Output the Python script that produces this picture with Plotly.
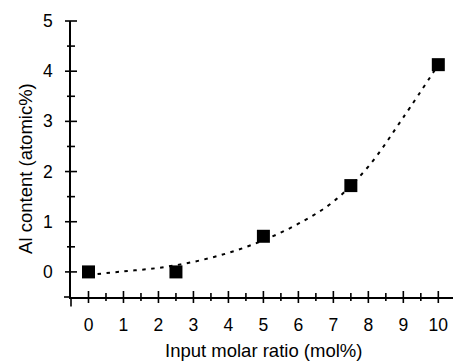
import plotly.graph_objects as go

# Data
input_ratio = [0, 2.5, 5, 7.5, 10]
al_content = [0.0, 0.0, 0.71, 1.72, 4.13]

fit_x = [0, 1, 2, 3, 4, 5, 6, 7, 8, 9, 10]
fit_y = [-0.06, 0.01, 0.08, 0.20, 0.38, 0.63, 0.96, 1.40, 2.10, 3.08, 4.13]

x_title = "Input molar ratio (mol%)"
y_title = "Al content (atomic%)"
x_ticks = [0, 1, 2, 3, 4, 5, 6, 7, 8, 9, 10]
y_ticks = [0, 1, 2, 3, 4, 5]

# Layout geometry
XR = [-0.5, 10.42]
YR = [-0.5, 5.0]
W, H = 453, 364
ML, MR, MT, MB = 70.5, 0, 20.5, 67.2
PW, PH = W - ML - MR, H - MT - MB

FONT = "Liberation Sans, Arial, sans-serif"
LW = 1.6
TICKSIZE = 17.5
TITLESIZE = 18.5
MAJ, MIN = 6, 4  # half-lengths of crossing ticks, px


def xp(v):
    return (v - XR[0]) / (XR[1] - XR[0])


def yp(v):
    return (v - YR[0]) / (YR[1] - YR[0])


fig = go.Figure()
fig.add_trace(go.Scatter(
    x=fit_x, y=fit_y, mode="lines",
    line=dict(color="black", width=2, dash="3.5px,5.5px", shape="spline"),
    hoverinfo="skip", showlegend=False,
))
fig.add_trace(go.Scatter(
    x=input_ratio, y=al_content, mode="markers",
    marker=dict(symbol="square", size=13, color="black", line=dict(width=0)),
    showlegend=False,
))

# crossing ticks (both sides of the axis line), drawn in paper space
shapes = []
minor_x = [t + 0.5 for t in x_ticks[:-1]]
minor_y = [t + 0.5 for t in y_ticks[:-1]]
for vals, ln in ((x_ticks, MAJ), (minor_x, MIN)):
    for v in vals:
        shapes.append(dict(type="line", xref="paper", yref="paper",
                           x0=xp(v), x1=xp(v), y0=-ln / PH, y1=ln / PH,
                           line=dict(color="black", width=LW)))
for vals, ln in ((y_ticks, MAJ), (minor_y, MIN)):
    for v in vals:
        shapes.append(dict(type="line", xref="paper", yref="paper",
                           y0=yp(v), y1=yp(v), x0=-ln / PW, x1=ln / PW,
                           line=dict(color="black", width=LW)))
# axis lines extend slightly past their crossing point
shapes.append(dict(type="line", xref="paper", yref="paper", x0=-7 / PW, x1=0,
                   y0=0, y1=0, line=dict(color="black", width=LW)))
shapes.append(dict(type="line", xref="paper", yref="paper", x0=0, x1=0,
                   y0=-9.5 / PH, y1=0, line=dict(color="black", width=LW)))

common = dict(tickmode="array", ticks="", showgrid=False, zeroline=False,
              fixedrange=True, showline=True, linecolor="black", linewidth=LW,
              tickfont=dict(family=FONT, size=TICKSIZE, color="black"))

fig.update_layout(
    width=W, height=H,
    margin=dict(l=ML, r=MR, t=MT, b=MB, pad=0),
    paper_bgcolor="white", plot_bgcolor="white",
    font=dict(family=FONT, size=TICKSIZE, color="black"),
    xaxis=dict(**common, range=XR, tickvals=x_ticks,
               ticktext=[str(v) for v in x_ticks], ticklabelstandoff=5 + MAJ),
    yaxis=dict(**common, range=YR, tickvals=y_ticks,
               ticktext=[str(v) for v in y_ticks], ticklabelstandoff=7 + MAJ),
    shapes=shapes,
    annotations=[
        dict(text=x_title, xref="x", yref="paper", x=5, y=-(350 - (H - MB)) / PH,
             xanchor="center", yanchor="middle", showarrow=False,
             font=dict(family=FONT, size=TITLESIZE, color="black")),
        dict(text=y_title, xref="paper", yref="paper", x=(25 - ML) / PW,
             y=((H - MB) - 168) / PH,
             xanchor="center", yanchor="middle", showarrow=False, textangle=-90,
             font=dict(family=FONT, size=TITLESIZE, color="black")),
    ],
)

fig.write_html("out.html")
